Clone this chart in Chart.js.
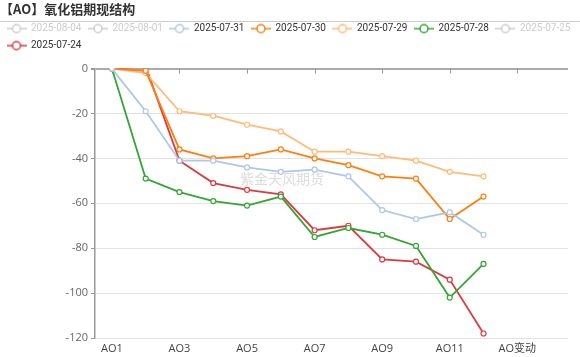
<!DOCTYPE html>
<html><head><meta charset="utf-8">
<script src="https://cdn.jsdelivr.net/npm/chart.js@4"></script>
<style>html,body{margin:0;padding:0;background:#fff}</style>
</head><body>
<canvas id="c" width="580" height="357"></canvas>
<script>
const categories = ['AO1','AO2','AO3','AO4','AO5','AO6','AO7','AO8','AO9','AO10','AO11','AO12','AO变动',''];
const seriesNames = ['2025-08-04','2025-08-01','2025-07-31','2025-07-30','2025-07-29','2025-07-28','2025-07-25','2025-07-24'];
const hiddenSeries = ['2025-08-04','2025-08-01','2025-07-25'];
const s0804 = [];
const s0801 = [];
const s0731 = [0,-19,-41,-41,-44,-46,-45,-48,-63,-67,-64,-74];
const s0730 = [0,-1,-36,-40,-39,-36,-40,-43,-48,-49,-67,-57];
const s0729 = [0,-2,-19,-21,-25,-28,-37,-37,-39,-41,-46,-48];
const s0728 = [0,-49,-55,-59,-61,-57,-75,-71,-74,-79,-102,-87];
const s0725 = [];
const s0724 = [0,1,-41,-51,-54,-56,-72,-70,-85,-86,-94,-118];
const yTicks = [0,-20,-40,-60,-80,-100,-120];
const titleText = '【AO】氧化铝期现结构';
const watermarkText = '紫金天风期货';

const seriesData = [s0804,s0801,s0731,s0730,s0729,s0728,s0725,s0724];
const seriesColors = ['#1f77b4','#98df8a','#aec7e8','#ff7f0e','#ffbb78','#33a633','#98df8a','#db3a3f'];

function makeIcon(color){
  const c = document.createElement('canvas');
  c.width = 20; c.height = 12;
  const g = c.getContext('2d');
  g.strokeStyle = color; g.lineWidth = 1.5;
  g.beginPath(); g.moveTo(0,6); g.lineTo(20,6); g.stroke();
  g.beginPath(); g.arc(10,6,4,0,Math.PI*2); g.fillStyle='#fff'; g.fill(); g.stroke();
  return c;
}

const datasets = seriesNames.map((name,i)=>({
  label: name,
  data: seriesData[i],
  hidden: hiddenSeries.includes(name),
  borderColor: seriesColors[i],
  backgroundColor: '#fff',
  pointBackgroundColor: '#fff',
  pointBorderColor: seriesColors[i],
  pointRadius: 2.5,
  pointBorderWidth: 1.2,
  borderWidth: 1.8,
  tension: 0,
  xAxisID: 'x', yAxisID: 'y'
}));
const icons = datasets.map(ds => makeIcon(hiddenSeries.includes(ds.label) ? '#cccccc' : ds.borderColor));

const decor = {
  id: 'decor',
  beforeDatasetsDraw(chart){
    const g = chart.ctx, xs = chart.scales.x, ys = chart.scales.y;
    g.save();
    g.font = "14px 'Noto Sans CJK SC'";
    g.fillStyle = '#dcdcdc';
    g.textAlign = 'center'; g.textBaseline = 'middle';
    g.fillText(watermarkText, chart.width/2 - 8, chart.height/2);
    const y0 = ys.getPixelForValue(0);
    g.strokeStyle = '#999'; g.lineWidth = 1;
    categories.forEach((c,i)=>{
      if (i % 2 === 0) {
        const x = Math.round(xs.getPixelForValue(i)) + 0.5;
        g.beginPath(); g.moveTo(x, y0); g.lineTo(x, y0 + 5); g.stroke();
      }
    });
    g.restore();
  },
  afterDraw(chart){
    const g = chart.ctx;
    const y = Math.round(chart.titleBlock.bottom + 4) + 0.5;
    g.save();
    g.strokeStyle = '#cccccc'; g.lineWidth = 1;
    g.beginPath(); g.moveTo(0, y); g.lineTo(chart.width, y); g.stroke();
    g.restore();
  }
};

new Chart(document.getElementById('c'), {
  type: 'line',
  data: { labels: categories, datasets },
  plugins: [decor],
  options: {
    responsive: false,
    animation: false,
    devicePixelRatio: 1,
    layout: { padding: { left: 0, right: 0, top: 0, bottom: 0 } },
    plugins: {
      tooltip: { enabled: false },
      title: {
        display: true, text: titleText, align: 'start', color: '#333',
        font: { family: "'Noto Sans CJK SC'", size: 13, weight: 'bold' },
        padding: { top: 1, bottom: 0 }
      },
      legend: {
        position: 'top', align: 'start',
        labels: {
          usePointStyle: true, pointStyleWidth: 19, padding: 7,
          font: { family: 'Roboto', size: 10 }, color: '#333',
          generateLabels(chart){
            return chart.data.datasets.map((ds,i)=>{
              const hid = hiddenSeries.includes(ds.label);
              return { text: ds.label, fillStyle: '#fff', strokeStyle: hid ? '#ccc' : ds.borderColor,
                lineWidth: 0, hidden: false, pointStyle: icons[i], fontColor: hid ? '#cccccc' : '#333333', datasetIndex: i };
            });
          }
        }
      }
    },
    scales: {
      x: {
        type: 'category', position: 'bottom', offset: true,
        grid: { display: false, drawTicks: false }, border: { display: false },
        ticks: { autoSkip: false, maxRotation: 0, padding: 4, color: '#444',
          font: { family: "'Open Sans','Noto Sans CJK SC'", size: 11 },
          callback: (v,i) => (i % 2 === 0 ? categories[i] : '') },
        afterFit(s){ s.height = 19; }
      },
      xTop: {
        type: 'category', position: 'top', offset: true, labels: categories,
        ticks: { display: false }, grid: { display: false, drawTicks: false }, border: { display: false },
        afterFit(s){ s.height = 8; }
      },
      y: {
        type: 'linear', position: 'left', min: -120, max: 0,
        afterBuildTicks(s){ s.ticks = yTicks.map(v => ({ value: v })); },
        grid: {
          color: c => (c.tick && c.tick.value === 0 ? '#aaaaaa' : '#e3e3e3'),
          lineWidth: c => (c.tick && c.tick.value === 0 ? 2 : 1),
          tickLength: 4, tickColor: '#999'
        },
        border: { display: true, color: '#999', width: 1.5 },
        ticks: { padding: 3, color: '#666', font: { family: "'Open Sans'", size: 11 } },
        afterFit(s){ s.width = 95; }
      },
      yR: {
        type: 'linear', position: 'right',
        ticks: { display: false }, grid: { display: false, drawTicks: false }, border: { display: false },
        afterFit(s){ s.width = 12; }
      }
    }
  }
});
</script>
</body></html>
